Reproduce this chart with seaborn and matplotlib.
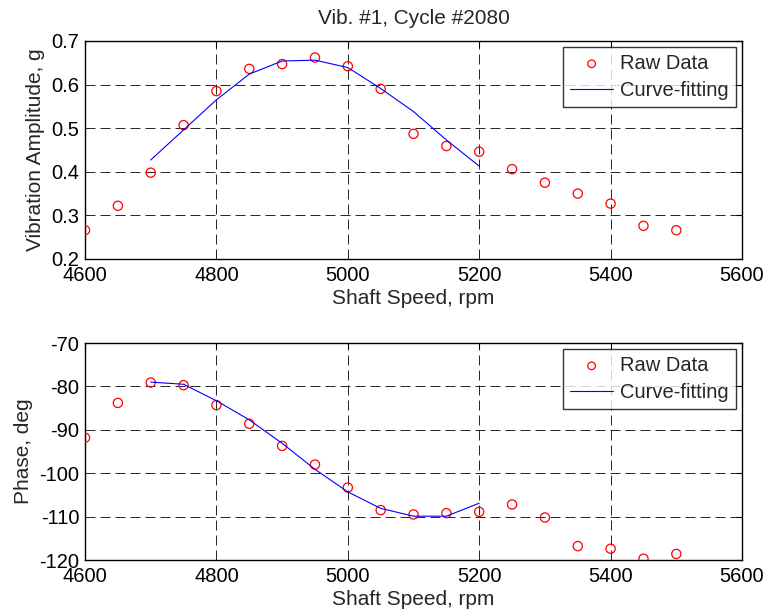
import matplotlib
matplotlib.use("Agg")
import matplotlib.pyplot as plt
import seaborn as sns
import numpy as np
import pandas as pd

# ---- data ----
speed_raw = [4600, 4650, 4700, 4750, 4800, 4850, 4900, 4950, 5000, 5050,
             5100, 5150, 5200, 5250, 5300, 5350, 5400, 5450, 5500]
amp_raw = [0.266, 0.322, 0.398, 0.507, 0.585, 0.636, 0.647, 0.662, 0.642, 0.590,
           0.487, 0.459, 0.446, 0.406, 0.375, 0.350, 0.327, 0.276, 0.266]
phase_raw = [-91.8, -83.8, -79.1, -79.7, -84.3, -88.6, -93.7, -98.0, -103.3, -108.5,
             -109.5, -109.2, -108.9, -107.2, -110.2, -116.8, -117.4, -119.7, -118.6]

speed_fit = [4700, 4750, 4800, 4850, 4900, 4950, 5000, 5050, 5100, 5150, 5200]
amp_fit = [0.427, 0.496, 0.565, 0.624, 0.654, 0.656, 0.639, 0.591, 0.538, 0.473, 0.413]
phase_fit = [-79.0, -79.5, -83.3, -87.7, -93.1, -99.1, -104.3, -108.1, -109.9, -109.9, -106.9]

title = "Vib. #1, Cycle #2080"
xlabel = "Shaft Speed, rpm"
ylabel_top = "Vibration Amplitude, g"
ylabel_bot = "Phase, deg"
xticks = [4600, 4800, 5000, 5200, 5400, 5600]
yticks_top = [0.2, 0.3, 0.4, 0.5, 0.6, 0.7]
yticks_bot = [-120, -110, -100, -90, -80, -70]

sns.set_style("white")
plt.rcParams['font.family'] = ['Liberation Sans', 'DejaVu Sans']
plt.rcParams['font.size'] = 14.5

raw = pd.DataFrame({"speed": speed_raw, "amp": amp_raw, "phase": phase_raw})
fit = pd.DataFrame({"speed": speed_fit, "amp": amp_fit, "phase": phase_fit})

fig = plt.figure(figsize=(7.66, 6.15), dpi=100)
ax1 = fig.add_axes([0.111, 0.5789, 0.8577, 0.3545])
ax2 = fig.add_axes([0.111, 0.0894, 0.8577, 0.3528])

def draw(ax, col, yticks, ylabel):
    sns.scatterplot(data=raw, x="speed", y=col, ax=ax, marker="o", s=44,
                    facecolors="none", edgecolor="red", linewidth=0.9,
                    label="Raw Data", zorder=3)
    sns.lineplot(data=fit, x="speed", y=col, ax=ax, color="blue", linewidth=0.8,
                 label="Curve-fitting", zorder=4, sort=False)
    ax.set_xlim(xticks[0], xticks[-1])
    ax.set_ylim(yticks[0], yticks[-1])
    ax.set_xticks(xticks)
    ax.set_yticks(yticks)
    ax.set_yticklabels([f"{t:g}" for t in yticks])
    ax.set_xlabel(xlabel, fontsize=15, labelpad=3)
    ax.set_ylabel(ylabel, fontsize=15, labelpad=5)
    ax.grid(True, color="black", linestyle=(0, (12, 6)), linewidth=0.6)
    ax.set_axisbelow(True)
    ax.tick_params(direction="in", length=4, width=0.8, top=True, right=True,
                   labelsize=14.5, colors="black")
    ax.tick_params(axis="x", pad=5)
    ax.tick_params(axis="y", pad=4)
    for s in ax.spines.values():
        s.set_visible(True)
        s.set_color("black")
        s.set_linewidth(1.0)
    leg = ax.legend(loc="upper right", frameon=True, fancybox=False,
                    edgecolor="black", fontsize=14.5, borderpad=0.35,
                    handlelength=2.15, labelspacing=0.4, borderaxespad=0.3,
                    handletextpad=0.35)
    leg.get_frame().set_linewidth(1.0)
    leg.legend_handles[0].set_sizes([30])

draw(ax1, "amp", yticks_top, ylabel_top)
draw(ax2, "phase", yticks_bot, ylabel_bot)
ax1.set_title(title, fontsize=15, pad=12)

fig.savefig("out.png", dpi=100)
